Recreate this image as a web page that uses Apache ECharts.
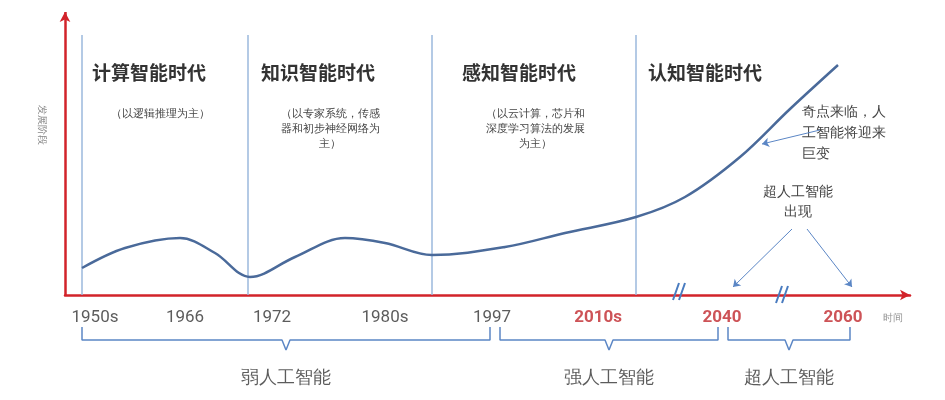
<!DOCTYPE html>
<html><head><meta charset="utf-8">
<script src="https://cdn.jsdelivr.net/npm/echarts@6/dist/echarts.min.js"></script>
<style>html,body{margin:0;background:#fff}#c{width:945px;height:400px}</style>
</head><body><div id="c"></div>
<script>
// development curve, x/y in chart units (x from the y axis, y above the time axis)
const curveX = [17, 60, 115, 150, 185, 230, 280, 320, 367, 440, 500, 571, 620, 675, 725, 773]
const curveY = [27, 47, 57, 42, 18, 38, 57, 52, 40, 48, 62, 78, 98, 138, 186, 230]
const dividerX = [17, 183, 367, 571]
const dividerTop = 260
const tickLabels = ['1950s', '1966', '1972', '1980s', '1997', '2010s', '2040', '2060']
const tickX = [30, 120, 207, 320, 427, 533, 657, 778]
const tickRed = [false, false, false, false, false, true, true, true]
const eras = ['计算智能时代', '知识智能时代', '感知智能时代', '认知智能时代']
const eraNotes = ['（以逻辑推理为主）', '（以专家系统，传感\n器和初步神经网络为\n主）', '（以云计算，芯片和\n深度学习算法的发展\n为主）', '']
const stages = ['弱人工智能', '强人工智能', '超人工智能']
const stageFrom = [17, 435, 663]
const stageTo = [425, 653, 785]

const chart = echarts.init(document.getElementById('c'))

const braceData = (a, b) => {
  const m = (a + b) / 2
  return [[a, -32], [a, -45], [m - 4, -45], [m, -55], [m + 4, -45], [b, -45], [b, -32]]
}
const series = [
  {type: 'line', data: curveX.map((x, i) => [x, curveY[i]]), smooth: 0.35, symbol: 'none',
    lineStyle: {color: '#4a6a9a', width: 2.5}, z: 5},
  {type: 'line', symbol: 'none', data: [], markLine: {silent: true, symbol: ['none', 'arrow'], symbolSize: [8, 10],
    lineStyle: {color: '#d2232a', width: 2.5, type: 'solid'}, label: {show: false},
    data: [[{coord: [0, 0]}, {coord: [0, 283]}]]}},
  {type: 'scatter', symbolSize: 0, data: tickX.map((x, i) => [x, -23]),
    label: {show: true, position: 'inside',
      formatter: p => tickRed[p.dataIndex] ? '{r|' + tickLabels[p.dataIndex] + '}' : tickLabels[p.dataIndex],
      color: '#333', fontSize: 17, fontFamily: 'Roboto',
      rich: {r: {color: '#c0282d', fontWeight: 'bold', fontSize: 17, fontFamily: 'Roboto'}}}},
  {type: 'scatter', symbolSize: 0, data: [[828, -23]],
    label: {show: true, position: 'inside', formatter: '时间', color: '#777', fontSize: 10}},
  {type: 'line', symbol: 'none', data: [], markLine: {silent: true, symbol: 'none',
    lineStyle: {color: '#9bb8dc', width: 1.5, type: 'solid'}, label: {show: false},
    data: dividerX.map(x => [{coord: [x, 0]}, {coord: [x, dividerTop]}])}},
  {type: 'line', symbol: 'none', data: [], markLine: {silent: true, symbol: ['none', 'arrow'], symbolSize: 7,
    lineStyle: {color: '#5b86c5', width: 1, type: 'solid'}, label: {show: false},
    data: [
      [{coord: [727, 66]}, {coord: [668, 8]}],
      [{coord: [742, 66]}, {coord: [787, 8]}],
      [{coord: [755, 165]}, {coord: [697, 151]}]
    ]}},
  {type: 'line', symbol: 'none', data: [], markLine: {silent: true, symbol: 'none',
    lineStyle: {color: '#4a7cc0', width: 2, type: 'solid'}, label: {show: false},
    data: [[{coord: [608, -5]}, {coord: [614, 12]}], [{coord: [614, -5]}, {coord: [620, 12]}],
      [{coord: [711, -8]}, {coord: [717, 9]}], [{coord: [717, -8]}, {coord: [723, 9]}]]}}
]
stages.forEach((s, i) => series.push({type: 'line', symbol: 'none', data: braceData(stageFrom[i], stageTo[i]),
  lineStyle: {color: '#5b86c5', width: 1.5}}))
stages.forEach((s, i) => series.push({type: 'scatter', symbolSize: 0,
  data: [[(stageFrom[i] + stageTo[i]) / 2, -83]],
  label: {show: true, position: 'inside', formatter: s, color: '#333', fontSize: 18}}))

const eraX = [92, 261, 462, 648]
const noteX = [160, 330, 535, 0]
const graphic = [
  {type: 'text', x: 42, y: 125, rotation: -Math.PI / 2, style: {text: '发展阶段', fill: '#888', fontSize: 10, align: 'center', verticalAlign: 'middle'}},
  ...eras.map((e, i) => ({type: 'text', x: eraX[i], y: 63, style: {text: e, fill: '#333', fontSize: 19, fontWeight: 'bold', fontFamily: 'Noto Sans CJK SC'}})),
  ...eraNotes.map((n, i) => ({type: 'text', x: noteX[i], y: 106, style: {text: n, fill: '#444', fontSize: 11, align: 'center', lineHeight: 15}})),
  {type: 'text', x: 802, y: 102, style: {text: '奇点来临，人\n工智能将迎来\n巨变', fill: '#444', fontSize: 14, lineHeight: 21}},
  {type: 'text', x: 798, y: 182, style: {text: '超人工智能\n出现', fill: '#444', fontSize: 14, lineHeight: 20, align: 'center'}}
]

chart.setOption({
  animation: false,
  grid: {left: 65, right: 35, top: 10, bottom: 0},
  xAxis: {type: 'value', min: 0, max: 845, axisLine: {onZero: true, symbol: ['none', 'arrow'], symbolSize: [8, 10],
    lineStyle: {color: '#d2232a', width: 2.5}}, axisTick: {show: false}, axisLabel: {show: false}, splitLine: {show: false}},
  yAxis: {type: 'value', min: -105, max: 285, axisLine: {show: false}, axisTick: {show: false},
    axisLabel: {show: false}, splitLine: {show: false}},
  graphic,
  series
})
</script></body></html>
